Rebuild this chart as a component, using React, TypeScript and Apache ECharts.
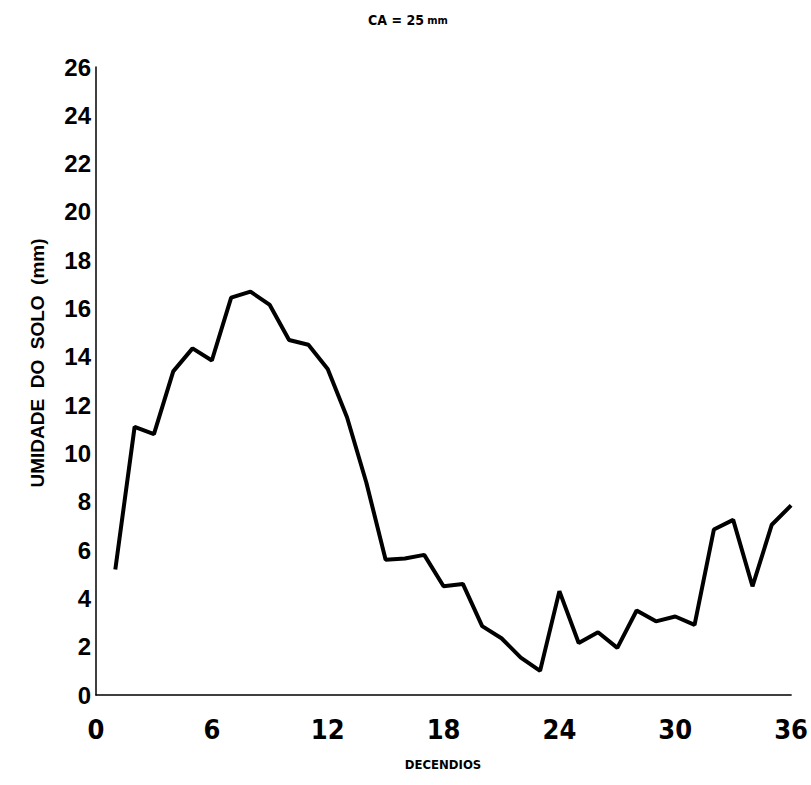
import React, { useEffect, useRef } from "react";
import * as echarts from "echarts";

const titleMain = "CA = 25";
const titleUnit = "mm";
const xAxisTitle = "DECENDIOS";
const yAxisTitle = "UMIDADE  DO  SOLO  (mm)";

const decendios = [
  1, 2, 3, 4, 5, 6, 7, 8, 9, 10, 11, 12, 13, 14, 15, 16, 17, 18,
  19, 20, 21, 22, 23, 24, 25, 26, 27, 28, 29, 30, 31, 32, 33, 34, 35, 36,
];
const umidade = [
  5.2, 11.1, 10.8, 13.4, 14.35, 13.85, 16.45, 16.7, 16.15, 14.7, 14.5, 13.5,
  11.5, 8.8, 5.6, 5.65, 5.8, 4.5, 4.6, 2.85, 2.35, 1.55, 1.0, 4.3,
  2.15, 2.6, 1.95, 3.5, 3.05, 3.25, 2.9, 6.85, 7.25, 4.5, 7.05, 7.85,
];

const FONT = '"Liberation Sans", Arial, sans-serif';
const NARROW = '"DejaVu Sans Condensed", "Liberation Sans", sans-serif';

export default function App() {
  const ref = useRef<HTMLDivElement>(null);
  useEffect(() => {
    document.body.style.margin = "0";
    if (!ref.current) return;
    const chart = echarts.init(ref.current, null, { renderer: "svg" });
    chart.setOption({
      animation: false,
      backgroundColor: "#ffffff",
      grid: { left: 96, right: 14, top: 67, bottom: 90, containLabel: false },
      xAxis: {
        type: "value",
        min: 0,
        max: 36,
        interval: 6,
        axisLine: { show: true, lineStyle: { color: "#000", width: 1.5 } },
        axisTick: { show: false },
        splitLine: { show: false },
        axisLabel: {
          margin: 21,
          fontFamily: NARROW,
          fontWeight: "bold",
          fontSize: 27,
          color: "#000",
        },
      },
      yAxis: {
        type: "value",
        min: 0,
        max: 26,
        interval: 2,
        axisLine: { show: true, lineStyle: { color: "#000", width: 1.5 } },
        axisTick: { show: false },
        splitLine: { show: false },
        axisLabel: {
          margin: 5,
          fontFamily: FONT,
          fontWeight: "bold",
          fontSize: 24,
          color: "#000",
        },
      },
      graphic: [
        {
          type: "text",
          x: 408,
          y: 20,
          style: {
            text: `{a|${titleMain}} {b|${titleUnit}}`,
            rich: {
              a: { fontFamily: NARROW, fontWeight: "bold", fontSize: 14, fill: "#000" },
              b: { fontFamily: NARROW, fontWeight: "bold", fontSize: 11, fill: "#000" },
            },
            textAlign: "center",
            textVerticalAlign: "middle",
          },
        },
        {
          type: "text",
          x: 37,
          y: 363,
          rotation: Math.PI / 2,
          style: {
            text: yAxisTitle,
            fontFamily: FONT,
            fontWeight: "bold",
            fontSize: 19,
            fill: "#000",
            textAlign: "center",
            textVerticalAlign: "middle",
          },
        },
        {
          type: "text",
          x: 443,
          y: 764,
          style: {
            text: xAxisTitle,
            fontFamily: NARROW,
            fontWeight: "bold",
            fontSize: 13,
            fill: "#000",
            textAlign: "center",
            textVerticalAlign: "middle",
          },
        },
      ],
      series: [
        {
          type: "line",
          data: decendios.map((d, i) => [d, umidade[i]]),
          showSymbol: false,
          symbol: "none",
          lineStyle: { color: "#000", width: 4 },
        },
      ],
    });
    return () => chart.dispose();
  }, []);
  return <div ref={ref} style={{ width: 811, height: 785 }} />;
}
